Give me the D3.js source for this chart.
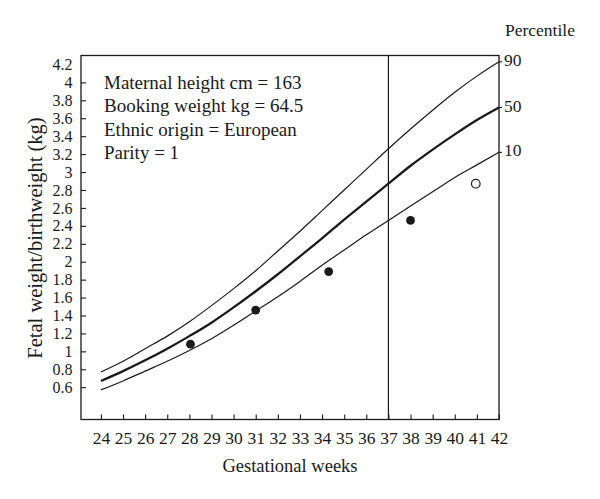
<!DOCTYPE html>
<html>
<head>
<meta charset="utf-8">
<script src="https://cdn.jsdelivr.net/npm/d3@7"></script>
<style>
  html, body { margin: 0; padding: 0; background: #fff; }
  svg { display: block; }
  text { font-family: "Liberation Serif", "Times New Roman", serif; fill: #1a1a1a; }
</style>
</head>
<body>
<svg id="chart" width="600" height="499"></svg>
<script>
// ---- data ----
const weeks = [24,25,26,27,28,29,30,31,32,33,34,35,36,37,38,39,40,41,42];
const p90 = [0.77,0.89,1.03,1.17,1.33,1.51,1.70,1.90,2.12,2.34,2.57,2.80,3.03,3.26,3.48,3.69,3.89,4.07,4.23];
const p50 = [0.67,0.78,0.90,1.03,1.17,1.32,1.49,1.67,1.86,2.06,2.26,2.47,2.67,2.87,3.07,3.25,3.42,3.58,3.72];
const p10 = [0.57,0.67,0.78,0.89,1.01,1.14,1.29,1.45,1.61,1.78,1.96,2.13,2.30,2.46,2.62,2.78,2.94,3.08,3.22];
const percentileLabels = ["90","50","10"];
const measuredWeeks = [28.05, 31.0, 34.3, 38.0];
const measuredWeights = [1.08, 1.46, 1.89, 2.46];
const birthWeek = [40.95];
const birthWeight = [2.87];
const yTickValues = [0.6,0.8,1.0,1.2,1.4,1.6,1.8,2.0,2.2,2.4,2.6,2.8,3.0,3.2,3.4,3.6,3.8,4.0,4.2];
const xTickValues = [24,25,26,27,28,29,30,31,32,33,34,35,36,37,38,39,40,41,42];
const termLine = 37;
const infoLines = ["Maternal height cm = 163","Booking weight kg = 64.5","Ethnic origin = European","Parity = 1"];
const xTitle = "Gestational weeks";
const yTitle = "Fetal weight/birthweight (kg)";
const rightTitle = "Percentile";

// ---- layout ----
const L = 81, R = 499, T = 55.5, B = 419.5;
const svg = d3.select("#chart");
const x = d3.scaleLinear().domain([23.1, 42]).range([L, R]);
const y = d3.scaleLinear().domain([0.24, 4.3]).range([B, T]);
const ink = "#1a1a1a";

// axes (inward ticks)
const fmt = v => String(+v.toFixed(1));
const yAxis = svg.append("g").attr("transform", `translate(${L},0)`)
  .call(d3.axisLeft(y).tickValues(yTickValues).tickFormat(fmt).tickSize(-5).tickPadding(8.5));
yAxis.selectAll(".tick").filter(d => d > 4.1).select("line").remove();
const xAxis = svg.append("g").attr("transform", `translate(0,${B})`)
  .call(d3.axisBottom(x).tickValues(xTickValues).tickFormat(d3.format("d")).tickSize(-5).tickPadding(12));
[yAxis, xAxis].forEach(g => {
  g.select(".domain").remove();
  g.selectAll(".tick line").attr("stroke", ink).attr("stroke-width", 1.1);
  g.selectAll(".tick text").attr("fill", ink)
    .style("font-family", '"Liberation Serif", serif');
});
yAxis.selectAll(".tick text").attr("font-size", 16);
xAxis.selectAll(".tick text").attr("font-size", 17.5);

// frame
svg.append("rect").attr("x", L).attr("y", T).attr("width", R - L).attr("height", B - T)
  .attr("fill", "none").attr("stroke", ink).attr("stroke-width", 1.3);

// vertical line at 37 weeks
svg.append("line").attr("x1", x(termLine)).attr("x2", x(termLine)).attr("y1", T).attr("y2", B)
  .attr("stroke", ink).attr("stroke-width", 1.2);

// percentile curves
const line = d3.line().x(d => x(d[0])).y(d => y(d[1])).curve(d3.curveMonotoneX);
const series = [p90, p50, p10];
const widths = [1.2, 2.3, 1.2];
series.forEach((s, i) => {
  svg.append("path").datum(weeks.map((w, j) => [w, s[j]]))
    .attr("d", line).attr("fill", "none").attr("stroke", ink)
    .attr("stroke-width", widths[i]).attr("stroke-linejoin", "round");
  const yEnd = y(s[s.length - 1]);
  svg.append("line").attr("x1", R).attr("x2", R + 3).attr("y1", yEnd).attr("y2", yEnd)
    .attr("stroke", ink).attr("stroke-width", 1.1);
  svg.append("text").attr("x", R + 5).attr("y", yEnd - 2).attr("dominant-baseline", "central")
    .attr("font-size", 17.5).text(percentileLabels[i]);
});
svg.append("text").attr("x", 505).attr("y", 36).attr("font-size", 17.5).text(rightTitle);

// points
svg.append("g").selectAll("circle").data(measuredWeeks).join("circle")
  .attr("cx", d => x(d)).attr("cy", (d, i) => y(measuredWeights[i])).attr("r", 4.4).attr("fill", ink);
svg.append("g").selectAll("circle").data(birthWeek).join("circle")
  .attr("cx", d => x(d)).attr("cy", (d, i) => y(birthWeight[i])).attr("r", 4.3)
  .attr("fill", "#fff").attr("stroke", ink).attr("stroke-width", 1.2);

// info text
svg.append("g").selectAll("text").data(infoLines).join("text")
  .attr("x", 104).attr("y", (d, i) => 88.5 + i * 23.5).attr("font-size", 19).text(d => d);

// axis titles
svg.append("text").attr("x", 290).attr("y", 472).attr("text-anchor", "middle")
  .attr("font-size", 18.5).text(xTitle);
svg.append("text").attr("transform", "translate(42,238) rotate(-90)").attr("text-anchor", "middle")
  .attr("font-size", 20.5).text(yTitle);
</script>
</body>
</html>
